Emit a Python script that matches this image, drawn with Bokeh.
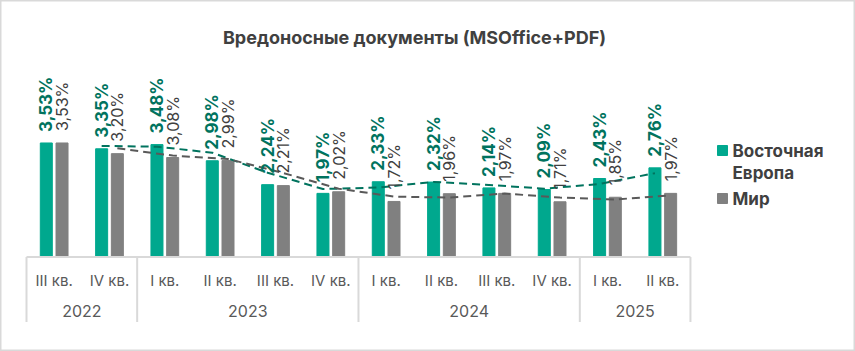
import math
from bokeh.plotting import figure
from bokeh.models import Range1d, Label, ColumnDataSource
from bokeh.core.properties import value
from bokeh.embed import file_html
from bokeh.resources import INLINE

# ---- data ----
quarters = ["III кв.", "IV кв.", "I кв.", "II кв.", "III кв.", "IV кв.",
            "I кв.", "II кв.", "III кв.", "IV кв.", "I кв.", "II кв."]
years = ["2022", "2023", "2024", "2025"]
year_counts = [2, 4, 4, 2]
east = [3.53, 3.35, 3.48, 2.98, 2.24, 1.97, 2.33, 2.32, 2.14, 2.09, 2.43, 2.76]
world = [3.53, 3.20, 3.08, 2.99, 2.21, 2.02, 1.72, 1.96, 1.97, 1.71, 1.85, 1.97]
series_names = ["Восточная\nЕвропа", "Мир"]
title_text = "Вредоносные документы (MSOffice+PDF)"

# ---- layout ----
W, H = 855, 351
X0_PX, CAT_PX = 26.0, 55.33
BASE_PX, YPX = 256.5, 32.3

def dx(px):
    return (px - X0_PX) / CAT_PX

def dy(py):
    return (BASE_PX - py) / YPX

GREEN = "#00A88E"
GREEN_DARK = "#00735E"
GREY = "#808080"
GREY_DARK = "#595959"
TEXT = "#404040"
LINE = "#D9D9D9"
FONT = "Inter"

p = figure(width=W, height=H, output_backend="svg", toolbar_location=None,
           x_axis_type=None, y_axis_type=None, title=None,
           x_range=Range1d(dx(0), dx(W)), y_range=Range1d(dy(H), dy(0)),
           min_border=0)
p.grid.visible = False
p.outline_line_color = LINE
p.outline_line_width = 2
p.background_fill_color = "white"
p.border_fill_color = "white"

n = len(quarters)
xc = [i + 0.5 for i in range(n)]
off = 0.142
bw = 0.217
xe = [x - off for x in xc]
xw = [x + off for x in xc]

p.vbar(x=xe, top=east, bottom=0, width=bw, color=GREEN)
p.vbar(x=xw, top=world, bottom=0, width=bw, color=GREY)

# moving-average (period 2) trend lines
ma_e = [(east[i - 1] + east[i]) / 2 for i in range(1, n)]
ma_w = [(world[i - 1] + world[i]) / 2 for i in range(1, n)]
p.line(xe[1:], ma_e, line_color=GREEN_DARK, line_width=2, line_dash="8 5")
p.line(xw[1:], ma_w, line_color=GREY_DARK, line_width=2, line_dash="8 5")

def fmt(v):
    return f"{v:.2f}".replace(".", ",") + "%"

src_e = ColumnDataSource(dict(x=xe, y=east, t=[fmt(v) for v in east]))
src_w = ColumnDataSource(dict(x=xw, y=world, t=[fmt(v) for v in world]))
p.text(x="x", y="y", text="t", source=src_e, angle=math.pi / 2,
       text_align="left", text_baseline="middle", y_offset=-11,
       text_font=value(FONT), text_font_style="bold",
       text_font_size="17px", text_color=GREEN_DARK)
p.text(x="x", y="y", text="t", source=src_w, angle=math.pi / 2,
       text_align="left", text_baseline="middle", y_offset=-12,
       text_font=value(FONT), text_font_size="16px", text_color=TEXT)

# category axis (two levels)
p.segment(x0=[0], y0=[0], x1=[n], y1=[0], line_color=LINE, line_width=2)
bounds = [0]
for c in year_counts:
    bounds.append(bounds[-1] + c)
p.segment(x0=bounds, y0=[0] * len(bounds), x1=bounds,
          y1=[dy(321.5)] * len(bounds), line_color=LINE, line_width=2)
p.text(x=xc, y=[dy(280)] * n, text=quarters, text_align="center",
       text_baseline="middle", text_font=value(FONT),
       text_font_size="15px", text_color=GREY_DARK)
ymid = [(bounds[i] + bounds[i + 1]) / 2 for i in range(len(years))]
p.text(x=ymid, y=[dy(310)] * len(years), text=years, text_align="center",
       text_baseline="middle", text_font=value(FONT),
       text_font_size="16px", text_color=GREY_DARK)

# title
p.add_layout(Label(x=414, y=H - 37, x_units="screen", y_units="screen",
                   text=title_text, text_align="center", text_baseline="middle",
                   text_font=FONT, text_font_style="bold",
                   text_font_size="18px", text_color=TEXT))

# legend
p.scatter(x=[dx(722), dx(722)], y=[dy(150), dy(198)], marker="square",
          size=10, color=[GREEN, GREY])
e_lines = series_names[0].split("\n")
p.add_layout(Label(x=732, y=H - 150, x_units="screen", y_units="screen",
                   text=e_lines[0], text_baseline="middle",
                   text_font=FONT, text_font_style="bold",
                   text_font_size="17px", text_color=TEXT))
p.add_layout(Label(x=732, y=H - 172, x_units="screen", y_units="screen",
                   text=e_lines[1], text_baseline="middle",
                   text_font=FONT, text_font_style="bold",
                   text_font_size="17px", text_color=TEXT))
p.add_layout(Label(x=732, y=H - 198, x_units="screen", y_units="screen",
                   text=series_names[1], text_baseline="middle",
                   text_font=FONT, text_font_style="bold",
                   text_font_size="17px", text_color=TEXT))

open("out.html", "w").write(file_html(p, INLINE))
